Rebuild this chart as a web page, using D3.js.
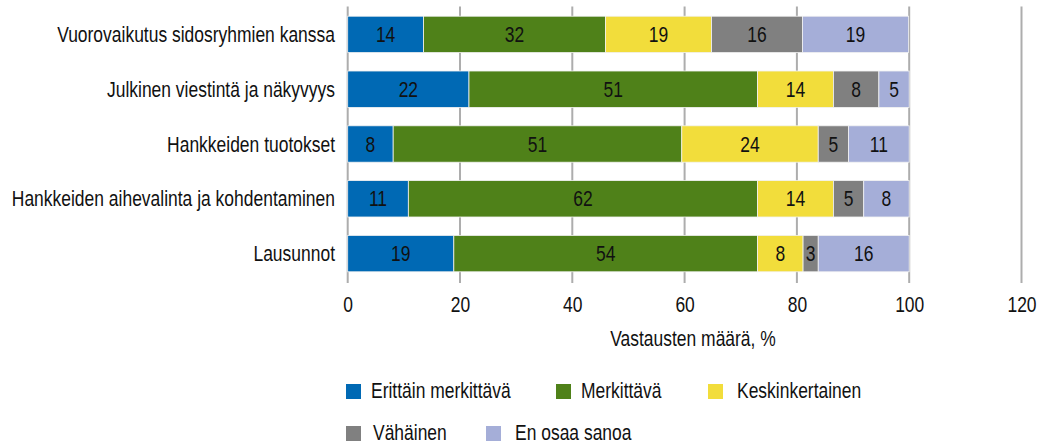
<!DOCTYPE html>
<html>
<head>
<meta charset="utf-8">
<script src="https://cdn.jsdelivr.net/npm/d3@7"></script>
<style>
  html, body { margin: 0; padding: 0; background: #fff; }
  svg text { font-family: "Liberation Sans", Arial, sans-serif; fill: #111; }
</style>
</head>
<body>
<svg id="chart" width="1040" height="444"></svg>
<script>
// ---- data ----
const categories = [
  "Vuorovaikutus sidosryhmien kanssa",
  "Julkinen viestintä ja näkyvyys",
  "Hankkeiden tuotokset",
  "Hankkeiden aihevalinta ja kohdentaminen",
  "Lausunnot"
];
const seriesNames = ["Erittäin merkittävä", "Merkittävä", "Keskinkertainen", "Vähäinen", "En osaa sanoa"];
const erittainMerkittava = [13.5, 21.6, 8.1, 10.8, 18.9];
const merkittava         = [32.4, 51.4, 51.4, 62.2, 54.1];
const keskinkertainen    = [18.9, 13.5, 24.3, 13.5, 8.1];
const vahainen           = [16.2, 8.1, 5.4, 5.4, 2.7];
const enOsaaSanoa        = [18.9, 5.4, 10.8, 8.1, 16.2];
const xTicks = [0, 20, 40, 60, 80, 100, 120];
const xTitle = "Vastausten määrä, %";
const colors = ["#0069B4", "#4F8119", "#F2DD3B", "#808080", "#A5AED8"];

// ---- build table ----
const seriesValues = [erittainMerkittava, merkittava, keskinkertainen, vahainen, enOsaaSanoa];
const table = categories.map((c, i) => {
  const row = { category: c };
  seriesNames.forEach((s, j) => row[s] = seriesValues[j][i]);
  return row;
});

const svg = d3.select("#chart");
const FS = 21.3;
const NARROW = 0.82;
// horizontally condense text (emulates a condensed typeface); x given via translate
function narrowAt(sel, xf) {
  sel.each(function (d, i) {
    const xv = xf ? xf(d, i) : 0;
    this.setAttribute("x", 0);
    this.setAttribute("transform", `translate(${xv},0) scale(${NARROW},1)`);
  });
}

const x = d3.scaleLinear().domain([0, 120]).range([347.7, 1021.5]);
const y = d3.scaleBand().domain(categories).range([7, 281]).paddingInner(0.336).paddingOuter(0.168);

// gridlines
svg.append("g").selectAll("line").data(xTicks).join("line")
  .attr("x1", d => x(d)).attr("x2", d => x(d))
  .attr("y1", 6.5).attr("y2", 283)
  .attr("stroke", "#ADADAD").attr("stroke-width", 2);

// stacked bars
const stack = d3.stack().keys(seriesNames);
const stacked = stack(table);

const groups = svg.append("g").selectAll("g").data(stacked).join("g")
  .attr("fill", (d, i) => colors[i]);

groups.selectAll("rect").data(d => d.map(v => ({ v, cat: v.data.category }))).join("rect")
  .attr("x", d => x(d.v[0]))
  .attr("width", d => x(d.v[1]) - x(d.v[0]))
  .attr("y", d => y(d.cat))
  .attr("height", y.bandwidth())
  .attr("stroke", "#f2f2f2").attr("stroke-width", 0.8);

// labels
groups.selectAll("text").data(d => d.map(v => ({ v, cat: v.data.category }))).join("text")
  .attr("y", d => y(d.cat) + y.bandwidth() / 2)
  .attr("dy", "0.36em")
  .attr("text-anchor", "middle")
  .attr("font-size", FS)
  .text(d => Math.round(d.v[1] - d.v[0]))
  .call(narrowAt, d => (x(d.v[0]) + x(d.v[1])) / 2);

// y axis labels
const yAxis = d3.axisLeft(y).tickSize(0).tickPadding(0);
const gy = svg.append("g").attr("transform", "translate(335,0)").call(yAxis);
gy.select(".domain").remove();
gy.selectAll("text").attr("font-size", FS).attr("font-family", null).attr("fill", "#111").attr("dy", "0.36em").call(narrowAt);

// x axis
const xAxis = d3.axisBottom(x).tickValues(xTicks).tickSize(0).tickPadding(0).tickFormat(d3.format("d"));
const gx = svg.append("g").attr("transform", "translate(0,297)").call(xAxis);
gx.select(".domain").remove();
gx.selectAll("text").attr("font-size", FS).attr("font-family", null).attr("fill", "#111").attr("dy", "0.71em").call(narrowAt);

svg.append("text").attr("y", 346).attr("text-anchor", "middle")
  .attr("font-size", FS).text(xTitle).call(narrowAt, () => 693);

// legend
const legendPos = [
  { sx: 346, tx: 371, y: 384 },
  { sx: 556, tx: 581, y: 384 },
  { sx: 708, tx: 737, y: 384 },
  { sx: 346, tx: 373, y: 426 },
  { sx: 486, tx: 515, y: 426 }
];
const lg = svg.append("g").selectAll("g").data(seriesNames).join("g");
lg.append("rect")
  .attr("x", (d, i) => legendPos[i].sx).attr("y", (d, i) => legendPos[i].y)
  .attr("width", 15).attr("height", 15)
  .attr("fill", (d, i) => colors[i]);
lg.append("text")
  .attr("y", (d, i) => legendPos[i].y + 14.5)
  .attr("font-size", FS).text(d => d).call(narrowAt, (d, i) => legendPos[i].tx);
</script>
</body>
</html>
